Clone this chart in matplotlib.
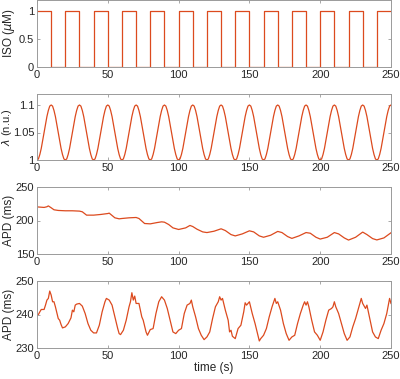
import numpy as np
import matplotlib
matplotlib.use("Agg")
import matplotlib.pyplot as plt

# ISO pulses: switch times and level held after each switch
iso_t = [0, 10, 20, 30, 40, 50, 60, 70, 80, 90, 100, 110, 120, 130, 140, 150,
         160, 170, 180, 190, 200, 210, 220, 230, 240, 250]
iso_v = [1, 0, 1, 0, 1, 0, 1, 0, 1, 0, 1, 0, 1, 0, 1, 0,
         1, 0, 1, 0, 1, 0, 1, 0, 1, 1]

# stretch, one 20 s cycle sampled each second, repeated over the record
lam_cycle = [1.000, 1.002, 1.010, 1.021, 1.035, 1.050, 1.065, 1.079, 1.090, 1.098,
             1.100, 1.098, 1.090, 1.079, 1.065, 1.050, 1.035, 1.021, 1.010, 1.002]

# APD, ISO only (panel 3)
apd1_t = [0, 2, 5, 7, 8, 10, 12, 15, 20, 25, 30, 32, 35, 40, 45, 50, 51, 55, 58,
          60, 65, 70, 72, 76, 80, 85, 88, 90, 93, 96, 100, 105, 108, 110, 113,
          117, 120, 125, 130, 133, 137, 140, 145, 150, 153, 157, 160, 165, 170,
          173, 177, 180, 185, 190, 193, 197, 200, 205, 210, 213, 217, 220, 225,
          230, 233, 237, 240, 245, 250]
apd1_v = [220.3, 220, 219.5, 220.5, 221.8, 219, 216, 215, 214.5, 214.5, 214, 213,
          208, 208, 209, 210.4, 211, 204, 202.5, 203, 204, 204.5, 203, 195.5, 195,
          197, 198, 197.5, 194, 189, 186.6, 189, 192.6, 191, 187, 183, 182, 184,
          187.6, 185, 179, 177, 180, 184.6, 183, 177, 175, 178, 183.7, 182, 176,
          173.3, 177, 182, 181, 175, 172.3, 175, 182, 180, 174, 170.8, 175, 182.7,
          179, 173, 171, 174, 181.7]

# APD, ISO + stretch (panel 4)
apd2_t = [0, 1, 2, 3, 4, 5, 6, 7, 8, 9, 10, 11, 12, 13, 14, 15, 16, 17, 18, 20,
          22, 24, 25, 26, 27, 28, 30, 32, 34, 36, 38, 40, 42, 44, 46, 48, 49, 51,
          53, 55, 57, 58, 59, 61, 63, 65, 66, 67, 68, 69, 70, 72, 74, 75, 77, 78,
          80, 82, 84, 86, 88, 90, 92, 94, 96, 98, 100, 102, 104, 106, 108, 109,
          110, 112, 114, 116, 118, 120, 122, 124, 126, 128, 129, 130, 131, 133,
          135, 136, 137, 138, 140, 142, 144, 146, 147, 148, 150, 152, 154, 156,
          157, 158, 160, 162, 164, 166, 168, 169, 170, 172, 174, 176, 178, 180,
          182, 184, 186, 188, 189, 190, 191, 192, 194, 196, 198, 200, 202, 204,
          206, 208, 209, 210, 211, 213, 215, 217, 219, 221, 223, 225, 227, 229,
          230, 232, 233, 235, 237, 239, 241, 243, 245, 247, 249, 250]
apd2_v = [239.8, 240, 240.8, 241.5, 241.5, 241.5, 242.8, 244.3, 244.8, 247, 245.8,
          243.8, 243.8, 242.3, 240.5, 238.8, 238.3, 237, 236, 236.3, 237.3, 239,
          241.3, 240.8, 242.8, 243.1, 243.3, 242.5, 240.3, 237.3, 235.3, 234.5,
          234.5, 236.8, 240.8, 243.8, 244.8, 244.3, 242.8, 239.3, 235.8, 234.3,
          234, 235.3, 238.3, 242.3, 243.8, 246.5, 244.3, 245.5, 243.3, 243.3,
          239.3, 238.3, 234.8, 233.8, 235.5, 235.8, 240.3, 243.8, 245.3, 244.3,
          241.8, 238.3, 234.8, 234.3, 235.3, 235.8, 240.3, 242.8, 243.3, 244.3,
          242.3, 239.3, 235.8, 233.8, 232.5, 233.3, 234.8, 238.8, 242.3, 243.8,
          245.3, 244.3, 244.8, 241.3, 238.3, 234.8, 235.3, 233.5, 232.8, 235.8,
          236.8, 240.8, 243.5, 242.8, 243.8, 240.3, 237.3, 233.8, 232.1, 232.8,
          233.8, 235.8, 239.3, 242.3, 244.8, 243.3, 243.8, 241.3, 237.3, 234.3,
          232.3, 233.3, 233.8, 237.3, 240.3, 242.8, 243.8, 242.8, 243.8, 242.3,
          238.3, 234.8, 233.8, 232.3, 234.8, 238.3, 241.3, 241.8, 242.3, 243.8,
          242.3, 240.3, 237.3, 234.3, 232.3, 233.3, 236.3, 238.8, 241.8, 244.8,
          243.3, 241.8, 242.8, 238.8, 234.8, 233.3, 232.8, 235.3, 237.3, 240.3,
          244.8, 243.3]

xticks = [0, 50, 100, 150, 200, 250]

line_col = "#DC4A1E"
edge_col = "#9a9a9a"
text_col = "#262626"

plt.rcParams["font.family"] = ["Liberation Sans", "DejaVu Sans"]
plt.rcParams["mathtext.fontset"] = "dejavusans"
plt.rcParams["font.size"] = 8.5

fig = plt.figure(figsize=(4.0, 3.79), dpi=100)

W, H = 400.0, 379.0
left, width = 37 / W, 354 / W
# top and bottom edges in pixels for each panel
rows = [(0, 67), (94, 160), (187, 254), (281, 348)]
# x pixel of the right edge of each y label
label_x = [17, 14, 15, 15]
axes = []
for top, bot in rows:
    ax = fig.add_axes([left, 1 - bot / H, width, (bot - top) / H])
    axes.append(ax)

lam_t = np.arange(0, 251)
lam_v = np.array(lam_cycle * 13)[:251]

axes[0].step(iso_t, iso_v, where="post", color=line_col, lw=0.9)
axes[1].plot(lam_t, lam_v, color=line_col, lw=0.9)
axes[2].plot(apd1_t, apd1_v, color=line_col, lw=0.9)
axes[3].plot(apd2_t, apd2_v, color=line_col, lw=0.9)

axes[0].set_ylim(0, 1.2)
axes[0].set_yticks([0, 0.5, 1])
axes[0].set_yticklabels(["0", "0.5", "1"])
axes[0].set_ylabel(r"ISO ($\mu$M)")

axes[1].set_ylim(1, 1.12)
axes[1].set_yticks([1, 1.05, 1.1])
axes[1].set_yticklabels(["1", "1.05", "1.1"])
axes[1].set_ylabel(r"$\lambda$ (n.u.)", fontsize=8)

axes[2].set_ylim(150, 250)
axes[2].set_yticks([150, 200, 250])
axes[2].set_ylabel("APD (ms)")

axes[3].set_ylim(230, 250)
axes[3].set_yticks([230, 240, 250])
axes[3].set_ylabel("APD (ms)")
axes[3].set_xlabel("time (s)", labelpad=1)

for ax, lx in zip(axes, label_x):
    ax.set_xlim(0, 250)
    ax.set_xticks(xticks)
    ax.tick_params(direction="in", length=2.5, width=0.6, colors=edge_col,
                   labelcolor=text_col, labelsize=8, top=True, right=True, pad=2)
    for s in ax.spines.values():
        s.set_color(edge_col)
        s.set_linewidth(0.7)
    ax.yaxis.label.set_color(text_col)
    ax.xaxis.label.set_color(text_col)
    ax.yaxis.set_label_coords((lx - 37) / 354, 0.5)

fig.savefig("out.png", dpi=100)
